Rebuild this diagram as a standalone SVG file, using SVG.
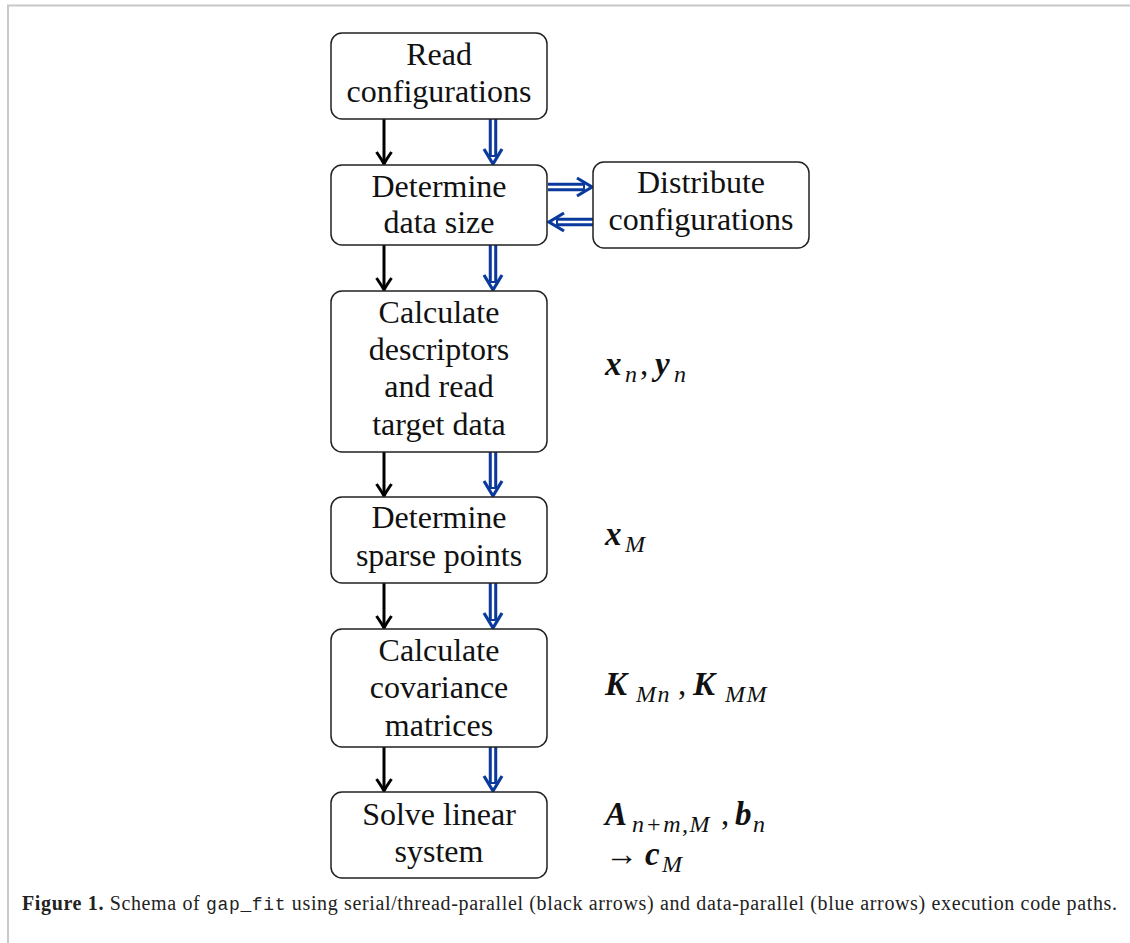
<svg xmlns="http://www.w3.org/2000/svg" width="1130" height="943" viewBox="0 0 1130 943">
<style>
.box{fill:#fff;stroke:#222;stroke-width:1.5}
.lbl{font-family:'Liberation Serif',serif;font-size:32px;fill:#111;text-anchor:middle}
.m{font-family:'Liberation Serif',serif;font-size:33px;fill:#111}
.bi{font-weight:bold;font-style:italic}
.sub{font-style:italic;font-size:24px;letter-spacing:1.5px}
.blk{stroke:#000;stroke-width:3;fill:none}
.bo{stroke:#0a3a9c;stroke-width:8.5;fill:none}
.bw{stroke:#fff;stroke-width:2.4;fill:none}
.bh{stroke:#0a3a9c;stroke-width:3.2;fill:none}
.cap{font-family:'Liberation Serif',serif;font-size:20px;fill:#222}
</style>
<defs>
<path id="ah" d="M -7.5,-12 Q -2,-4 0,0 Q 2,-4 7.5,-12" class="blk"/>
<path id="bh" d="M -9,-15 Q -3,-5 0,0 Q 3,-5 9,-15" class="bh"/>
</defs>
<rect width="1130" height="943" fill="#fff"/>
<path d="M 8,943 V 5.5 H 1130" fill="none" stroke="#c8c8c8" stroke-width="2"/>

<g id="connectors">
  <g id="c1"><path class="blk" d="M 384,119 V 162"/><use href="#ah" x="384" y="164"/>
    <path class="bo" d="M 493,119 V 157"/><path class="bw" d="M 493,119 V 155"/><use href="#bh" x="493" y="164"/></g>
  <g id="c2"><path class="blk" d="M 384,245 V 288"/><use href="#ah" x="384" y="290"/>
    <path class="bo" d="M 493,245 V 283"/><path class="bw" d="M 493,245 V 281"/><use href="#bh" x="493" y="290"/></g>
  <g id="c3"><path class="blk" d="M 384,452 V 494"/><use href="#ah" x="384" y="496"/>
    <path class="bo" d="M 493,452 V 489"/><path class="bw" d="M 493,452 V 487"/><use href="#bh" x="493" y="496"/></g>
  <g id="c4"><path class="blk" d="M 384,583 V 626"/><use href="#ah" x="384" y="628"/>
    <path class="bo" d="M 493,583 V 621"/><path class="bw" d="M 493,583 V 619"/><use href="#bh" x="493" y="628"/></g>
  <g id="c5"><path class="blk" d="M 384,747 V 789"/><use href="#ah" x="384" y="791"/>
    <path class="bo" d="M 493,747 V 784"/><path class="bw" d="M 493,747 V 782"/><use href="#bh" x="493" y="791"/></g>
  <g id="c6"><path class="bo" d="M 548,187 H 585"/><path class="bw" d="M 548,187 H 583"/><use href="#bh" transform="translate(592,187) rotate(-90)"/></g>
  <g id="c7"><path class="bo" d="M 593,222 H 556"/><path class="bw" d="M 593,222 H 558"/><use href="#bh" transform="translate(549,222) rotate(90)"/></g>
</g>

<g id="n1"><rect class="box" x="331" y="33" width="216" height="86" rx="11"/>
  <text class="lbl" x="439" y="65">Read</text><text class="lbl" x="439" y="102">configurations</text></g>
<g id="n2"><rect class="box" x="331" y="165" width="216" height="80" rx="11"/>
  <text class="lbl" x="439" y="197">Determine</text><text class="lbl" x="439" y="233">data size</text></g>
<g id="n7"><rect class="box" x="593" y="162" width="216" height="86" rx="11"/>
  <text class="lbl" x="701" y="193">Distribute</text><text class="lbl" x="701" y="230">configurations</text></g>
<g id="n3"><rect class="box" x="331" y="291" width="216" height="161" rx="11"/>
  <text class="lbl" x="439" y="323">Calculate</text><text class="lbl" x="439" y="360">descriptors</text>
  <text class="lbl" x="439" y="397">and read</text><text class="lbl" x="439" y="435">target data</text></g>
<g id="n4"><rect class="box" x="331" y="497" width="216" height="86" rx="11"/>
  <text class="lbl" x="439" y="528">Determine</text><text class="lbl" x="439" y="566">sparse points</text></g>
<g id="n5"><rect class="box" x="331" y="629" width="216" height="118" rx="11"/>
  <text class="lbl" x="439" y="661">Calculate</text><text class="lbl" x="439" y="698">covariance</text>
  <text class="lbl" x="439" y="736">matrices</text></g>
<g id="n6"><rect class="box" x="331" y="792" width="216" height="86" rx="11"/>
  <text class="lbl" x="439" y="825">Solve linear</text><text class="lbl" x="439" y="862">system</text></g>

<g id="labels">
  <text class="m" y="375"><tspan class="bi" x="605">x</tspan><tspan class="sub" x="625" y="382">n</tspan><tspan x="640" y="375">,</tspan><tspan class="bi" x="655">y</tspan><tspan class="sub" x="674" y="382">n</tspan></text>
  <text class="m" y="545"><tspan class="bi" x="605">x</tspan><tspan class="sub" x="625" y="552">M</tspan></text>
  <text class="m" y="695"><tspan class="bi" x="605">K</tspan><tspan class="sub" x="636" y="702" letter-spacing="3">Mn</tspan><tspan x="678" y="695">,</tspan><tspan class="bi" x="693">K</tspan><tspan class="sub" x="725" y="702" letter-spacing="3">MM</tspan></text>
  <text class="m" y="825"><tspan class="bi" x="605">A</tspan><tspan class="sub" x="632" y="832" letter-spacing="2.5">n+m,M</tspan><tspan x="721" y="825">,</tspan><tspan class="bi" x="735">b</tspan><tspan class="sub" x="753" y="832">n</tspan></text>
  <text class="m" y="865"><tspan x="605">→</tspan><tspan class="bi" x="645">c</tspan><tspan class="sub" x="662" y="872">M</tspan></text>
</g>

<text class="cap" x="22" y="910" textLength="1095" lengthAdjust="spacing"><tspan font-weight="bold">Figure 1.</tspan> Schema of <tspan font-family="'Liberation Mono',monospace" font-size="18px">gap_fit</tspan> using serial/thread-parallel (black arrows) and data-parallel (blue arrows) execution code paths.</text>
</svg>
